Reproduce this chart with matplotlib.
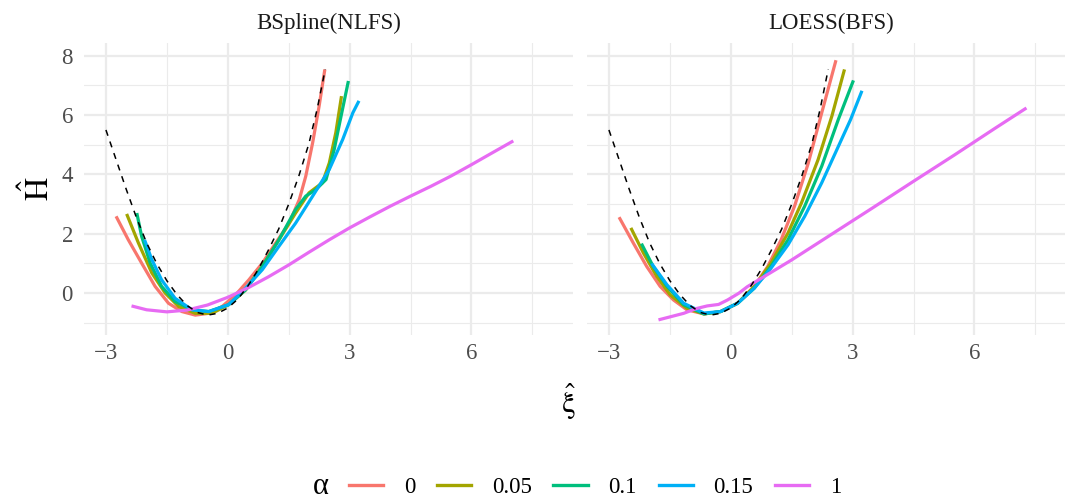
import matplotlib
matplotlib.use("Agg")
import matplotlib.pyplot as plt
from matplotlib.lines import Line2D

plt.rcParams['font.family'] = ['Liberation Serif', 'DejaVu Serif']
plt.rcParams['mathtext.fontset'] = 'stix'

alphas = ['0', '0.05', '0.1', '0.15', '1']
colors = ['#F8766D', '#A3A500', '#00BF7D', '#00B0F6', '#E76BF3']
panels = ['BSpline(NLFS)', 'LOESS(BFS)']

# true curve (dashed, same in both panels)
true_x = [-3.0, -2.75, -2.5, -2.25, -2.0, -1.75, -1.5, -1.25, -1.0, -0.75, -0.5, -0.25,
          0.0, 0.25, 0.5, 0.75, 1.0, 1.25, 1.5, 1.75, 2.0, 2.2, 2.4]
true_y = [5.5, 4.5, 3.5, 2.55, 1.7, 1.0, 0.42, -0.05, -0.42, -0.65, -0.74, -0.68,
          -0.5, -0.2, 0.25, 0.8, 1.45, 2.15, 3.0, 3.95, 5.05, 6.2, 7.55]

# BSpline(NLFS) estimates
bs_x_0 = [-2.75, -2.45, -2.12, -1.79, -1.46, -1.13, -0.80, -0.47, -0.14, 0.19, 0.52, 0.85,
          1.18, 1.51, 1.76, 1.92, 2.09, 2.25, 2.39]
bs_y_0 = [2.59, 1.80, 1.01, 0.23, -0.34, -0.62, -0.74, -0.68, -0.45, -0.06, 0.45, 1.01,
          1.69, 2.36, 3.15, 3.94, 5.07, 6.31, 7.54]
bs_x_005 = [-2.49, -2.2, -1.87, -1.54, -1.21, -0.80, -0.39, 0.02, 0.44, 0.85, 1.26, 1.67,
            2.0, 2.33, 2.5, 2.66, 2.8]
bs_y_005 = [2.67, 1.69, 0.68, 0.0, -0.45, -0.68, -0.68, -0.39, 0.11, 0.9, 1.8, 2.7,
            3.38, 3.72, 4.39, 5.41, 6.64]
bs_x_01 = [-2.24, -2.12, -1.91, -1.63, -1.30, -0.88, -0.47, 0.02, 0.44, 0.85, 1.26, 1.67,
           1.92, 2.17, 2.42, 2.62, 2.79, 2.97]
bs_y_01 = [2.7, 1.91, 1.01, 0.23, -0.28, -0.56, -0.62, -0.39, 0.11, 0.9, 1.8, 2.82,
           3.27, 3.49, 3.83, 4.84, 5.97, 7.15]
bs_x_015 = [-2.05, -1.87, -1.63, -1.30, -0.88, -0.47, 0.02, 0.44, 0.85, 1.26, 1.67, 2.09,
            2.5, 2.83, 3.08, 3.23]
bs_y_015 = [1.80, 1.13, 0.45, -0.17, -0.56, -0.62, -0.39, 0.17, 0.79, 1.58, 2.36, 3.27,
            4.17, 5.18, 6.08, 6.48]
bs_x_1 = [-2.37, -2.0, -1.5, -1.0, -0.5, 0.0, 0.5, 1.0, 1.5, 2.0, 2.5, 3.0, 3.5, 4.0,
          4.5, 5.0, 5.5, 6.0, 6.5, 7.03]
bs_y_1 = [-0.43, -0.56, -0.63, -0.57, -0.4, -0.14, 0.18, 0.55, 0.95, 1.38, 1.8, 2.2, 2.57,
          2.93, 3.27, 3.6, 3.95, 4.33, 4.72, 5.13]

# LOESS(BFS) estimates
lo_x_0 = [-2.75, -2.40, -2.07, -1.74, -1.41, -1.08, -0.66, -0.25, 0.17, 0.58, 0.91, 1.24,
          1.57, 1.91, 2.24, 2.59]
lo_y_0 = [2.56, 1.69, 0.90, 0.23, -0.23, -0.56, -0.70, -0.62, -0.34, 0.23, 0.90, 1.80,
          2.93, 4.39, 6.08, 7.85]
lo_x_005 = [-2.46, -2.15, -1.82, -1.49, -1.08, -0.66, -0.25, 0.17, 0.58, 0.99, 1.41, 1.74,
            2.15, 2.49, 2.80]
lo_y_005 = [2.2, 1.35, 0.56, -0.06, -0.51, -0.70, -0.62, -0.34, 0.23, 1.01, 2.03, 3.04,
            4.5, 5.97, 7.54]
lo_x_01 = [-2.2, -1.91, -1.57, -1.16, -0.66, -0.25, 0.17, 0.58, 0.99, 1.41, 1.82, 2.24,
           2.65, 3.02]
lo_y_01 = [1.67, 0.9, 0.23, -0.39, -0.70, -0.62, -0.34, 0.17, 0.90, 1.80, 2.93, 4.28,
           5.86, 7.17]
lo_x_015 = [-1.95, -1.57, -1.16, -0.66, -0.25, 0.17, 0.58, 0.99, 1.41, 1.82, 2.24, 2.65,
            2.95, 3.23]
lo_y_015 = [1.0, 0.28, -0.34, -0.67, -0.62, -0.34, 0.17, 0.84, 1.63, 2.59, 3.72, 4.95,
            5.85, 6.82]
lo_x_1 = [-1.78, -1.16, -0.85, -0.58, -0.3, -0.08, 0.2, 0.41, 0.75, 1.5, 2.5, 3.5, 4.5,
          5.5, 6.5, 7.28]
lo_y_1 = [-0.9, -0.68, -0.52, -0.43, -0.38, -0.23, 0.0, 0.22, 0.5, 1.12, 2.0, 2.88, 3.77,
          4.65, 5.55, 6.24]

bs_curves = [(bs_x_0, bs_y_0), (bs_x_005, bs_y_005), (bs_x_01, bs_y_01),
             (bs_x_015, bs_y_015), (bs_x_1, bs_y_1)]
lo_curves = [(lo_x_0, lo_y_0), (lo_x_005, lo_y_005), (lo_x_01, lo_y_01),
             (lo_x_015, lo_y_015), (lo_x_1, lo_y_1)]

W, H = 1065, 500
fig = plt.figure(figsize=(W / 100, H / 100), dpi=100)
ax1 = fig.add_axes([84 / W, 1 - 335 / H, 489 / W, 292 / H])
ax2 = fig.add_axes([587 / W, 1 - 335 / H, 489 / W, 292 / H])

for ax, curves, title in [(ax1, bs_curves, panels[0]), (ax2, lo_curves, panels[1])]:
    for (x, y), c in zip(curves, colors):
        ax.plot(x, y, color=c, lw=2.3, solid_capstyle='butt', solid_joinstyle='round')
    ax.plot(true_x, true_y, color='black', lw=1.1, ls=(0, (4, 4)))
    ax.set_xlim(-3.54, 8.5)
    ax.set_ylim(-1.41, 8.43)
    ax.set_xticks([-3, 0, 3, 6])
    ax.set_xticks([-1.5, 1.5, 4.5, 7.5], minor=True)
    ax.set_yticks([0, 2, 4, 6, 8])
    ax.set_yticks([-1, 1, 3, 5, 7], minor=True)
    ax.grid(True, which='major', color='#EBEBEB', lw=1.6)
    ax.grid(True, which='minor', color='#EBEBEB', lw=0.8)
    ax.set_axisbelow(True)
    for s in ax.spines.values():
        s.set_visible(False)
    ax.tick_params(which='both', length=0, labelsize=16.5, labelcolor='#4D4D4D')
    ax.tick_params(axis='x', pad=6)
    ax.tick_params(axis='y', pad=8)
    ax.set_title(title, fontsize=16.5, color='#1A1A1A', pad=10)

ax2.tick_params(axis='y', labelleft=False)

fig.text(38 / W, 1 - 189 / H, r'$\hat{\mathrm{H}}$', rotation=90, ha='center', va='center',
         fontsize=23)
fig.text(568 / W, 1 - 402 / H, r'$\hat{\mathrm{\xi}}$', ha='center', va='center', fontsize=22)

handles = [Line2D([], [], color=c, lw=2.4) for c in colors]
fig.legend(handles, alphas, loc='center', bbox_to_anchor=(595 / W, 1 - 487 / H), ncol=5,
           frameon=False, fontsize=16.5, handlelength=1.5, handletextpad=0.9,
           columnspacing=0.95)
fig.text(321 / W, 1 - 487 / H, 'α', ha='center', va='center', fontsize=22)

fig.savefig('out.png', dpi=100)
